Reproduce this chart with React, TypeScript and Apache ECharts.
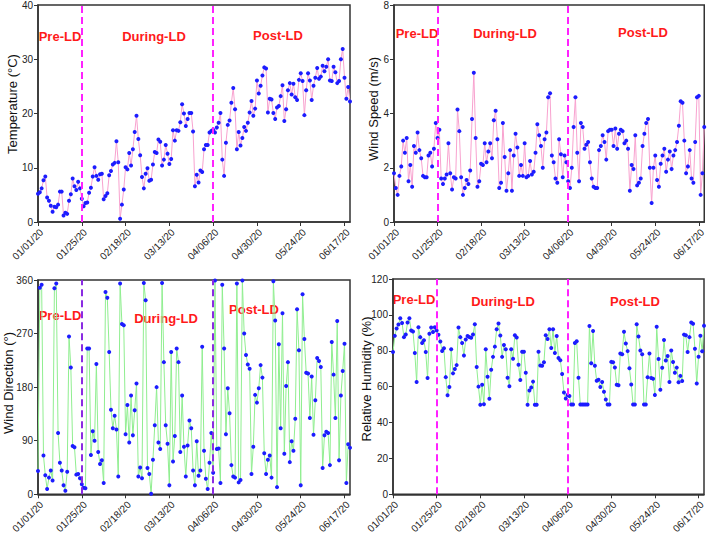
import React, { useEffect, useRef } from "react";
import * as echarts from "echarts";

// ---- Data (daily, 01/01/20 .. 06/20/20) ----
const xTickLabels = ["01/01/20", "01/25/20", "02/18/20", "03/13/20", "04/06/20", "04/30/20", "05/24/20", "06/17/20"];
const lockdownLines = [24, 96]; // day offsets of 01/25/20 and 04/06/20
const phaseNames = ["Pre-LD", "During-LD", "Post-LD"];

const temperature = [
  5.2, 5.5, 6.2, 7.7, 8.4, 4.5, 3.9, 3.0, 1.9, 2.8,
  2.7, 3.2, 5.6, 5.6, 1.2, 1.7, 1.5, 3.9, 5.1, 8.0,
  6.6, 5.9, 7.4, 6.2, 4.3, 2.9, 3.5, 3.6, 5.4, 6.3,
  8.4, 10.1, 8.5, 7.8, 8.8, 8.9, 4.2, 4.8, 5.3, 8.6,
  9.4, 10.6, 10.9, 14.9, 11.0, 0.6, 3.2, 6.0, 10.1, 9.7,
  12.7, 10.4, 13.4, 16.6, 19.6, 15.3, 12.3, 8.3, 6.2, 8.9,
  9.9, 7.6, 7.8, 10.6, 12.9, 12.7, 15.2, 14.8, 10.4, 11.5,
  14.2, 12.6, 10.7, 11.6, 16.9, 15.0, 16.9, 16.8, 18.4, 21.7,
  20.0, 17.7, 19.0, 20.1, 20.1, 16.7, 6.6, 8.7, 7.3, 9.5,
  9.2, 13.4, 14.2, 14.2, 16.5, 16.8, 17.0, 16.5, 17.4, 18.3,
  20.1, 11.5, 8.5, 14.6, 17.9, 18.7, 22.0, 24.7, 20.8, 13.4,
  16.6, 14.1, 15.5, 17.5, 16.8, 18.3, 20.2, 22.3, 19.6, 20.9,
  26.1, 23.7, 25.1, 27.0, 28.5, 28.3, 20.2, 22.7, 22.6, 20.1,
  19.0, 21.1, 21.4, 23.2, 25.2, 18.6, 20.8, 24.3, 25.6, 23.5,
  25.5, 23.0, 22.5, 26.2, 27.4, 26.0, 19.7, 24.3, 27.4, 26.1,
  22.5, 25.1, 26.6, 28.4, 26.4, 26.8, 28.8, 27.8, 28.6, 30.0,
  26.1, 26.0, 28.6, 27.6, 25.6, 26.0, 30.0, 31.9, 26.6, 22.7,
  24.9, 22.2,
];

const windSpeed = [
  1.8, 1.25, 1.0, 1.7, 2.05, 3.0, 2.55, 3.1, 1.5, 2.1,
  1.3, 2.8, 2.55, 3.3, 2.65, 2.35, 1.7, 1.65, 1.65, 2.45,
  2.55, 2.05, 2.7, 3.65, 3.1, 3.4, 1.6, 1.4, 1.6, 1.75,
  2.9, 1.8, 1.2, 1.65, 1.6, 4.15, 3.35, 1.65, 1.0, 1.25,
  1.55, 1.4, 1.9, 3.8, 5.5, 3.1, 1.3, 1.5, 2.15, 2.1,
  2.9, 2.2, 2.6, 2.9, 2.35, 3.75, 4.1, 3.05, 1.25, 1.45,
  3.65, 2.4, 1.15, 1.8, 2.65, 1.15, 2.45, 3.25, 2.75, 1.7,
  2.1, 1.7, 2.9, 1.65, 1.7, 2.25, 1.75, 1.85, 2.55, 3.6,
  3.2, 2.8, 2.0, 3.05, 3.3, 4.6, 4.75, 2.45, 2.2, 1.6,
  1.45, 3.05, 2.5, 1.65, 2.45, 2.2, 1.5, 1.25, 2.0, 3.5,
  4.6, 2.55, 1.5, 3.65, 3.5, 2.7, 2.85, 2.95, 2.2, 1.6,
  1.3, 1.25, 1.25, 2.65, 2.8, 3.2, 2.95, 2.3, 3.35, 3.4,
  3.4, 2.8, 3.45, 2.7, 3.25, 3.4, 3.35, 2.9, 3.0, 2.7,
  1.15, 2.1, 1.95, 3.2, 1.35, 1.45, 1.6, 2.8, 3.25, 3.65,
  3.8, 2.0, 0.7, 2.0, 2.45, 1.55, 1.3, 2.15, 2.45, 2.7,
  1.85, 2.3, 2.6, 1.95, 2.45, 2.65, 2.95, 3.55, 4.45, 4.4,
  3.0, 1.8, 2.05, 2.65, 1.6, 1.45, 2.95, 4.6, 4.65, 1.0,
  1.8, 3.5,
];

const windDirection = [
  39, 347, 352, 65, 32, 9, 28, 40, 23, 346,
  354, 103, 53, 40, 15, 6, 38, 265, 213, 81,
  79, 33, 34, 27, 17, 11, 10, 245, 245, 66,
  106, 90, 219, 71, 51, 57, 19, 340, 330, 239,
  142, 111, 132, 109, 30, 354, 286, 284, 101, 150,
  87, 166, 99, 141, 186, 30, 45, 27, 355, 326,
  44, 34, 1, 58, 116, 180, 87, 76, 355, 222,
  116, 85, 15, 239, 55, 98, 245, 222, 71, 166,
  80, 30, 82, 124, 111, 40, 15, 89, 31, 40,
  248, 73, 26, 9, 53, 103, 36, 359, 76, 77,
  19, 352, 245, 101, 178, 136, 49, 30, 28, 354,
  20, 24, 359, 270, 234, 218, 211, 34, 80, 167,
  154, 178, 217, 196, 69, 34, 58, 65, 28, 358,
  292, 12, 252, 111, 304, 68, 182, 222, 54, 89,
  73, 127, 311, 242, 15, 336, 261, 204, 203, 128,
  198, 100, 158, 229, 224, 214, 44, 99, 105, 103,
  49, 256, 201, 128, 291, 57, 166, 207, 253, 19,
  84, 78,
];

const humidity = [
  79.3, 88.3, 92.4, 94.6, 98.1, 95.5, 87.6, 89.1, 95.7, 98.1,
  91.3, 90.7, 78.8, 62.6, 93.1, 87.6, 84.3, 85.8, 79.3, 64.8,
  89.5, 93.0, 90.4, 93.1, 91.3, 88.9, 85.2, 79.9, 81.4, 65.3,
  55.2, 59.8, 80.8, 67.4, 69.8, 72.0, 93.0, 87.6, 84.3, 77.3,
  86.3, 88.2, 87.6, 87.2, 89.1, 94.8, 70.9, 60.0, 49.9, 61.1,
  50.2, 80.8, 65.5, 53.2, 69.4, 76.6, 82.3, 92.0, 95.2, 88.5,
  76.6, 83.2, 80.8, 65.0, 60.2, 80.8, 75.5, 88.7, 87.4, 72.2,
  63.7, 79.5, 79.5, 67.7, 49.9, 57.8, 59.5, 62.8, 49.9, 49.9,
  79.5, 71.8, 71.6, 73.6, 88.7, 86.5, 92.0, 81.5, 92.0, 78.7,
  88.2, 76.0, 74.7, 67.0, 56.7, 53.4, 55.4, 54.8, 50, 50,
  84.3, 85.3, 65.0, 50, 50, 50, 50, 50, 93.8, 73.0,
  91.0, 71.6, 63.3, 63.8, 59.8, 62.6, 57.2, 52.8, 50, 50,
  73.8, 73.6, 70.7, 61.0, 60.8, 78.5, 78.0, 90.6, 84.1, 79.8,
  70.3, 61.2, 50, 50, 94.8, 88.0, 80.2, 78.1, 50, 50,
  65.2, 78.5, 64.8, 64.4, 55.4, 93.4, 75.4, 58.3, 70.5, 86.0,
  74.6, 77.1, 62.6, 80.1, 73.7, 67.7, 70.6, 62.4, 66.0, 63.2,
  89.0, 88.6, 79.3, 87.6, 95.8, 95.1, 81.1, 61.7, 76.7, 88.4,
  79.7, 94.0,
];

const FONT = 'Arial, "Liberation Sans", sans-serif';

type Panel = {
  name: string;
  data: number[];
  max: number;
  interval: number;
  grid: { left: number; top: number; width: number; height: number };
  lineColor: string;
  dashColor: string;
  nameX: number;
  nameY: number;
  labelPos: [number, number][];
};

const panels: Panel[] = [
  {
    name: "Temperature (\u00B0C)", data: temperature, max: 40, interval: 10,
    grid: { left: 38, top: 5, width: 312, height: 217 },
    lineColor: "#f8a2cf", dashColor: "#ff22ff", nameX: 12, nameY: 104,
    labelPos: [[60, 36], [154, 36], [278, 35]],
  },
  {
    name: "Wind Speed (m/s)", data: windSpeed, max: 8, interval: 2,
    grid: { left: 394, top: 4, width: 313, height: 218 },
    lineColor: "#f8a2cf", dashColor: "#ff22ff", nameX: 373, nameY: 109,
    labelPos: [[417, 33], [505, 33], [643, 32]],
  },
  {
    name: "Wind Direction (\u00B0)", data: windDirection, max: 360, interval: 90,
    grid: { left: 38, top: 280, width: 312, height: 218 },
    lineColor: "#90ee90", dashColor: "#8a2be2", nameX: 8, nameY: 383,
    labelPos: [[60, 315], [166, 318], [254, 309]],
  },
  {
    name: "Relative Humidity (%)", data: humidity, max: 120, interval: 20,
    grid: { left: 393, top: 279, width: 311, height: 218 },
    lineColor: "#90ee90", dashColor: "#ff22ff", nameX: 366, nameY: 379,
    labelPos: [[414, 299], [503, 301], [635, 301]],
  },
];

export default function App() {
  const ref = useRef<HTMLDivElement>(null);
  useEffect(() => {
    if (!ref.current) return;
    const chart = echarts.init(ref.current, undefined, { renderer: "svg" });
    const axisColor = "#333";
    const option: any = {
      animation: false,
      backgroundColor: "#fff",
      grid: panels.map((p) => ({
        ...p.grid,
        show: true,
        borderColor: axisColor,
        borderWidth: 1.5,
        containLabel: false,
      })),
      xAxis: panels.map((p, i) => ({
        gridIndex: i,
        type: "value",
        min: 0,
        max: p.data.length - 1,
        interval: 24,
        axisLine: { show: true, onZero: false, lineStyle: { color: axisColor, width: 1.5 } },
        axisTick: { show: true, inside: false, length: 4, lineStyle: { color: axisColor } },
        splitLine: { show: false },
        axisLabel: {
          rotate: 45,
          fontSize: 10,
          fontFamily: FONT,
          color: "#222",
          margin: 5,
          verticalAlign: "top",
          showMaxLabel: false,
          formatter: (v: number) => xTickLabels[Math.round(v / 24)] ?? "",
        },
      })),
      yAxis: panels.map((p, i) => ({
        gridIndex: i,
        type: "value",
        min: 0,
        max: p.max,
        interval: p.interval,
        axisLine: { show: true, lineStyle: { color: axisColor, width: 1.5 } },
        axisTick: { show: true, inside: false, length: 4, lineStyle: { color: axisColor } },
        splitLine: { show: false },
        axisLabel: { fontSize: 10, fontFamily: FONT, color: "#222", margin: 5 },
      })),
      series: panels.map((p, i) => ({
        type: "line",
        xAxisIndex: i,
        yAxisIndex: i,
        data: p.data.map((v, k) => [k, v]),
        symbol: "circle",
        symbolSize: 4,
        showSymbol: true,
        itemStyle: { color: "#1c1cff" },
        lineStyle: { color: p.lineColor, width: 1 },
        markLine: {
          silent: true,
          symbol: ["none", "none"],
          label: { show: false },
          lineStyle: { color: p.dashColor, type: [7, 4], width: 2 },
          data: lockdownLines.map((d) => ({ xAxis: d })),
        },
      })),
      graphic: [
        ...panels.map((p) => ({
          type: "text",
          x: p.nameX,
          y: p.nameY,
          rotation: Math.PI / 2,
          style: {
            text: p.name,
            fontSize: 13,
            fontFamily: FONT,
            fill: "#111",
            textAlign: "center",
            textVerticalAlign: "middle",
          },
        })),
        ...panels.flatMap((p) =>
          p.labelPos.map((pos, j) => ({
            type: "text",
            x: pos[0],
            y: pos[1],
            style: {
              text: phaseNames[j],
              fontSize: 13,
              fontWeight: "bold",
              fontFamily: FONT,
              fill: "#ff1a1a",
              textAlign: "center",
              textVerticalAlign: "middle",
            },
          }))
        ),
      ],
    };
    chart.setOption(option);
    return () => chart.dispose();
  }, []);
  return (
    <div
      ref={ref}
      style={{ position: "absolute", left: 0, top: 0, width: 708, height: 536, background: "#fff" }}
    />
  );
}
